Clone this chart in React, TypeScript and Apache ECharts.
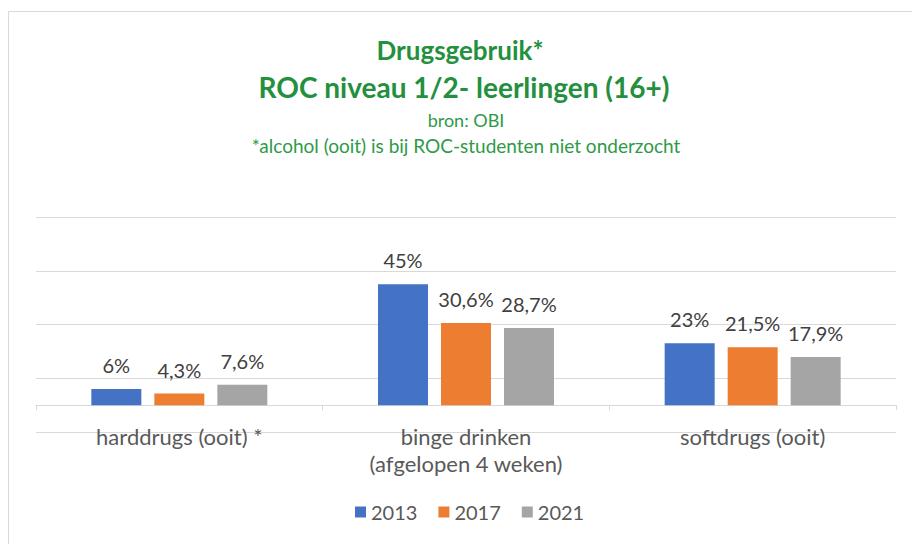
import React, { useEffect, useRef } from "react";
import * as echarts from "echarts";

const categories = ["harddrugs (ooit) *", "binge drinken\n(afgelopen 4 weken)", "softdrugs (ooit)"];
const years = ["2013", "2017", "2021"];
const values2013 = [6, 45, 23];
const values2017 = [4.3, 30.6, 21.5];
const values2021 = [7.6, 28.7, 17.9];
const seriesValues = [values2013, values2017, values2021];
const colors = ["#4472C4", "#ED7D31", "#A5A5A5"];
const yMin = -10;
const yMax = 70;
const yInterval = 20;

const titleLines = ["Drugsgebruik*", "ROC niveau 1/2- leerlingen (16+)"];
const subLines = ["bron: OBI", "*alcohol (ooit) is bij ROC-studenten niet onderzocht"];

const FONT = "Lato, 'Open Sans', sans-serif";

export default function App() {
  const ref = useRef<HTMLDivElement>(null);
  useEffect(() => {
    document.body.style.margin = "0";
    const chart = echarts.init(ref.current!, null, { renderer: "svg" });
    chart.setOption({
      animation: false,
      backgroundColor: "#ffffff",
      textStyle: { fontFamily: FONT },
      grid: { left: 36, right: 16, top: 217, bottom: 112, containLabel: false },
      legend: {
        data: years,
        left: 350,
        top: 497,
        itemWidth: 11,
        itemHeight: 11,
        itemGap: 21,
        icon: "rect",
        textStyle: { fontFamily: FONT, fontSize: 20, color: "#595959" },
      },
      xAxis: {
        type: "category",
        data: categories,
        axisLine: { show: true, onZero: true, lineStyle: { color: "#D9D9D9", width: 1 } },
        axisTick: { show: true, length: 5, lineStyle: { color: "#D9D9D9" } },
        axisLabel: {
          margin: -9,
          fontFamily: FONT,
          fontSize: 22,
          lineHeight: 27,
          color: "#595959",
        },
      },
      yAxis: {
        type: "value",
        min: yMin,
        max: yMax,
        interval: yInterval,
        axisLine: { show: false },
        axisTick: { show: false },
        axisLabel: { show: false },
        splitLine: { show: true, lineStyle: { color: "#D9D9D9", width: 1 } },
      },
      series: years.map((y, i) => ({
        name: y,
        type: "bar",
        data: seriesValues[i],
        barWidth: 50,
        barGap: "26%",
        itemStyle: { color: colors[i] },
        label: {
          show: true,
          position: "top",
          distance: 14,
          fontFamily: FONT,
          fontSize: 20,
          lineHeight: 20,
          color: "#404040",
          formatter: (p: any) => String(p.value).replace(".", ",") + "%",
        },
      })),
      graphic: [
        { type: "line", shape: { x1: 8.5, y1: 11.5, x2: 912, y2: 11.5 }, style: { stroke: "#D9D9D9", lineWidth: 1 } },
        { type: "line", shape: { x1: 8.5, y1: 11.5, x2: 8.5, y2: 544 }, style: { stroke: "#D9D9D9", lineWidth: 1 } },
        {
          type: "text", x: 460, y: 50,
          style: { text: titleLines[0], fontFamily: FONT, fontSize: 26, fontWeight: "bold", fill: "#23903E", align: "center", verticalAlign: "middle" },
        },
        {
          type: "text", x: 464, y: 87,
          style: { text: titleLines[1], fontFamily: FONT, fontSize: 28, fontWeight: "bold", fill: "#23903E", align: "center", verticalAlign: "middle" },
        },
        {
          type: "text", x: 466, y: 120,
          style: { text: subLines[0], fontFamily: FONT, fontSize: 18, fill: "#2E9A48", align: "center", verticalAlign: "middle" },
        },
        {
          type: "text", x: 466, y: 145,
          style: { text: subLines[1], fontFamily: FONT, fontSize: 19, fill: "#2E9A48", align: "center", verticalAlign: "middle" },
        },
      ],
    });
    return () => chart.dispose();
  }, []);
  return <div ref={ref} style={{ position: "absolute", left: 0, top: 0, width: 912, height: 544 }} />;
}
